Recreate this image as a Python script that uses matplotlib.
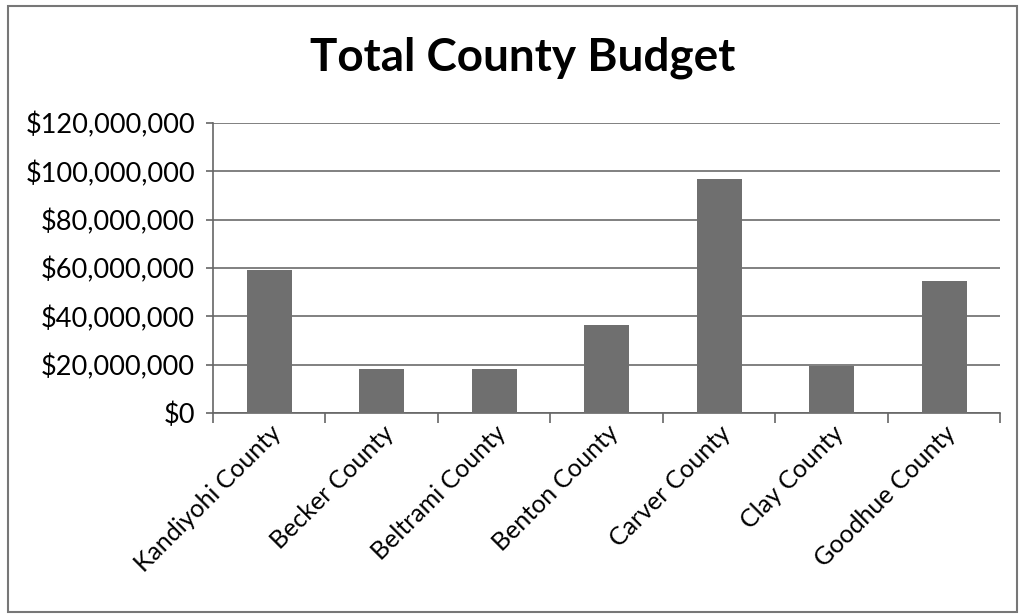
import matplotlib
matplotlib.use("Agg")
import matplotlib.pyplot as plt
from matplotlib.ticker import FuncFormatter, FixedLocator
from matplotlib.patches import Rectangle

counties = ["Kandiyohi County", "Becker County", "Beltrami County", "Benton County",
            "Carver County", "Clay County", "Goodhue County"]
budget = [59_000_000, 18_000_000, 18_000_000, 36_500_000, 97_000_000, 19_500_000, 54_500_000]
y_ticks = [0, 20_000_000, 40_000_000, 60_000_000, 80_000_000, 100_000_000, 120_000_000]

plt.rcParams['font.family'] = ['Lato', 'DejaVu Sans']

fig = plt.figure(figsize=(10.24, 6.15), dpi=100)
ax = fig.add_axes([0.208, 0.3285, 0.769, 0.4715])

x = range(len(counties))
ax.bar(x, budget, width=0.4, color="#6f6f6f", zorder=3)

ax.set_xlim(-0.5, len(counties) - 0.5)
ax.set_ylim(0, 120_000_000)
ax.set_yticks(y_ticks)
ax.yaxis.set_major_formatter(FuncFormatter(lambda v, p: "${:,.0f}".format(v)))
ax.grid(axis="y", color="#808080", linewidth=1.4, zorder=0)

# category labels at bar centres, tick marks between categories
ax.set_xticks(list(x))
ax.set_xticklabels(counties, rotation=45, ha="right", rotation_mode="anchor", fontsize=18)
ax.xaxis.set_minor_locator(FixedLocator([i - 0.5 for i in range(len(counties) + 1)]))
ax.tick_params(axis="x", which="major", length=0, pad=6)
ax.tick_params(axis="x", which="minor", length=7, width=1.2, color="#666666", direction="out")
ax.tick_params(axis="y", length=5, width=1.2, color="#666666", labelsize=19.5, pad=8)

for side in ("top", "right"):
    ax.spines[side].set_visible(False)
for side in ("left", "bottom"):
    ax.spines[side].set_color("#666666")
    ax.spines[side].set_linewidth(1.2)

fig.suptitle("Total County Budget", x=0.51, y=0.94, fontsize=33, fontweight="bold")

# chart area border
fig.patches.append(Rectangle((0.008, 0.005), 0.985, 0.985, transform=fig.transFigure,
                             fill=False, edgecolor="#777777", linewidth=1.5))

fig.savefig("out.png", dpi=100, facecolor="white")
